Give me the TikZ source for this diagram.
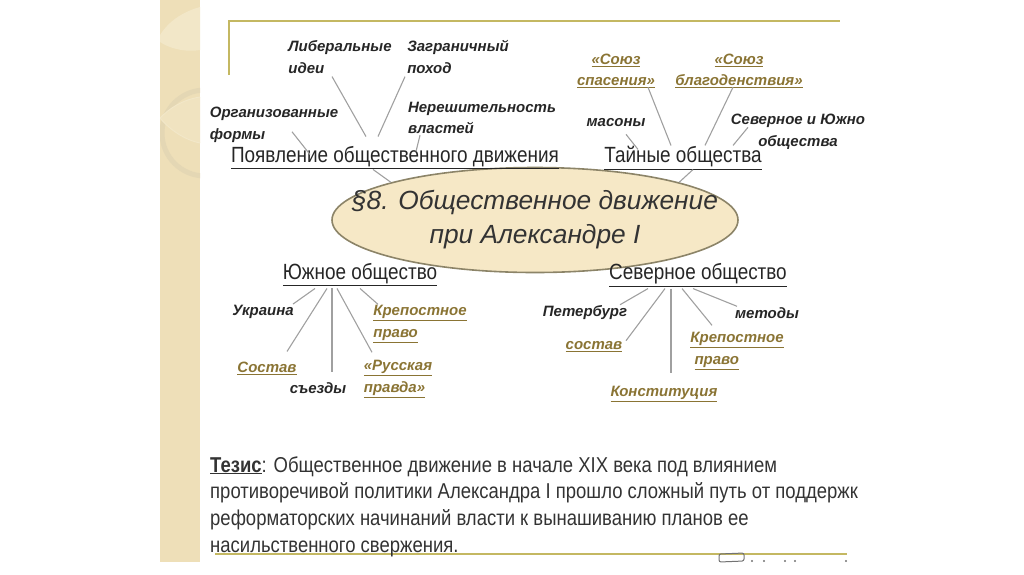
\documentclass[tikz,border=0pt]{standalone}
\usepackage{fontspec}
\setmainfont{Liberation Sans}
\newfontfamily\headfont[FakeStretch=0.86]{Liberation Sans}
\usetikzlibrary{positioning, shapes.geometric}
\definecolor{bandtan}{HTML}{EEDFB8}
\definecolor{bandlight}{HTML}{F2E7C8}
\definecolor{banddark}{HTML}{E4D7B4}
\definecolor{rulegold}{HTML}{C4B862}
\definecolor{goldtext}{HTML}{8A7434}
\definecolor{ovalfill}{HTML}{F6E8C6}
\definecolor{ovalline}{HTML}{8C8468}
\definecolor{linkgray}{HTML}{A0A0A0}
\newcommand{\gu}[1]{\textcolor{goldtext}{\underline{#1}}}
\tikzset{
  note/.style = {inner sep=0pt, xshift=1pt, yshift=-1pt, align=left, font=\fontsize{15}{21.5}\selectfont\bfseries\itshape, text=black!85},
  link/.style = {draw=linkgray, line width=1.1pt},
  headline/.style = {inner sep=0pt, yshift=-1pt, font=\headfont\fontsize{22}{24}\selectfont, text=black!85},
  thesis/.style = {inner sep=0pt, anchor=base west, font=\headfont\fontsize{21.5}{24}\selectfont, text=black!80},
}
\begin{document}
\begin{tikzpicture}[x=1pt, y=-1pt]
    \useasboundingbox (0,0) rectangle (1024,574);
    % left band
    \fill[bandtan] (160,0) rectangle (200,562);
    \begin{scope}
      \clip (160,0) rectangle (200,562);
      \fill[bandlight] (200,7) .. controls (182,12) and (168,22) .. (160,35) -- (160,42) .. controls (172,50) and (188,52) .. (200,50) -- cycle;
      \draw[banddark, line width=5pt] (205,133) circle (43);
      \draw[bandlight, fill=bandlight!50!bandtan, line width=1pt] (200,97) .. controls (182,100) and (170,108) .. (160,118) .. controls (170,130) and (185,140) .. (200,143);
    \end{scope}
    % frame lines
    \draw[rulegold, line width=1.6pt] (229,75) -- (229,21) -- (840,21);
    \draw[rulegold, line width=1.4pt] (215,554) -- (847,554);
    % logo rest
    \draw[black!55, line width=1pt, rounded corners=2pt] (719,562) -- (719,554) -- (744,553) -- (744,561) -- cycle;
    \foreach \dotx in {752,764,785,795,846} \fill[black!55] (\dotx,561) circle (1.2);

    % centre
    \node[ellipse, draw=ovalline, line width=1.6pt, fill=ovalfill, minimum width=406, minimum height=105, inner sep=0pt] (topic) at (535,220) {};
    \node[inner sep=0pt, align=center, font=\fontsize{26.3}{34}\selectfont\itshape, text=black!80] (title) at (topic) {§8. Общественное движение\\при Александре I};

    % headings
    \node[headline] (rise) at (395,157) {\underline{Появление общественного движения}};
    \node[headline] (secret) at (683,157) {\underline{Тайные общества}};
    \node[headline] (south) at (360,274) {\underline{Южное общество}};
    \node[headline] (north) at (698,274) {\underline{Северное общество}};

    % notes above
    \node[note] (liberal) at (339,56) {Либеральные\\идеи};
    \node[note] (abroad) at (457,56) {Заграничный\\поход};
    \node[note] (doubt) at (481,117) {Нерешительность\\властей};
    \node[note] (forms) at (273,124) {Организованные\\формы};
    \node[note, align=center] (salv) at (615,70) {\gu{«Союз}\\\gu{спасения»}};
    \node[note, align=center] (welf) at (738,70) {\gu{«Союз}\\\gu{благоденствия»}};
    \node[note] (mason) at (615,122) {масоны};
    \node[note, align=center] (both) at (797,131) {Северное и Южно\\общества};

    % notes south
    \node[note] (ukr) at (262,311) {Украина};
    \node[note] (serfs) at (419,323) {\gu{Крепостное}\\\gu{право}};
    \node[note] (staffs) at (266,367) {\gu{Состав}};
    \node[note] (cong) at (317,387) {съезды};
    \node[note] (truth) at (397,378) {\gu{«Русская}\\\gu{правда»}};

    % notes north
    \node[note] (peter) at (584,312) {Петербург};
    \node[note] (meth) at (766,312) {методы};
    \node[note] (staffn) at (593,346) {\gu{состав}};
    \node[note] (serfn) at (736,350) {\gu{Крепостное}\\\ \gu{право}};
    \node[note] (const) at (663,393) {\gu{Конституция}};

    % thesis
    \node[thesis] (th1) at (210,472) {\textbf{\underline{Тезис}}: Общественное движение в начале XIX века под влиянием};
    \node[thesis] (th2) at (210,498) {противоречивой политики Александра I прошло сложный путь от поддержк};
    \node[thesis] (th3) at (210,525) {реформаторских начинаний власти к вынашиванию планов ее};
    \node[thesis] (th4) at (210,552) {насильственного свержения.};

    % connectors
    \draw[link] ([xshift=-8pt,yshift=-3pt]liberal.south) -- ([xshift=-29pt,yshift=10pt]rise.north);
    \draw[link] ([xshift=-53pt,yshift=-3pt]abroad.south) -- ([xshift=-17pt,yshift=10pt]rise.north);
    \draw[link] ([xshift=18pt,yshift=11pt]forms.south) -- ([xshift=-85pt,yshift=-8pt]rise.north);
    \draw[link] ([xshift=-62pt,yshift=-1pt]doubt.south) -- ([xshift=21pt,yshift=-5pt]rise.north);
    \draw[link] ([xshift=-22pt]rise.south) -- (topic.north west);
    \draw[link] ([xshift=32pt,yshift=1pt]salv.south) -- ([xshift=-12pt,yshift=1pt]secret.north);
    \draw[link] ([xshift=-6pt,yshift=1pt]welf.south) -- ([xshift=22pt,yshift=1pt]secret.north);
    \draw[link] ([xshift=10pt,yshift=-7pt]mason.south) -- ([xshift=-45pt,yshift=-3pt]secret.north);
    \draw[link] ([xshift=-50pt,yshift=-13pt]both.north) -- ([xshift=50pt,yshift=1pt]secret.north);
    \draw[link] ([xshift=10pt]secret.south) -- (topic.north east);

    \draw[link] ([xshift=-45pt,yshift=-2pt]south.south) -- ([xshift=30pt,yshift=1pt]ukr.north);
    \draw[link] ([xshift=-33pt,yshift=-2pt]south.south) -- ([xshift=20pt,yshift=10pt]staffs.north);
    \draw[link] ([xshift=-28pt,yshift=-2pt]south.south) -- ([xshift=14pt,yshift=10pt]cong.north);
    \draw[link] ([xshift=-23pt,yshift=-2pt]south.south) -- ([xshift=-26pt,yshift=8pt]truth.north);
    \draw[link] ([xshift=0pt,yshift=-2pt]south.south) -- ([xshift=-42pt,yshift=1pt]serfs.north);

    \draw[link] ([xshift=-50pt,yshift=-2pt]north.south) -- ([xshift=35pt,yshift=1pt]peter.north);
    \draw[link] ([xshift=-33pt,yshift=-2pt]north.south) -- ([xshift=32pt,yshift=1pt]staffn.north);
    \draw[link] ([xshift=-27pt,yshift=-2pt]north.south) -- ([xshift=7pt,yshift=13pt]const.north);
    \draw[link] ([xshift=-16pt,yshift=-2pt]north.south) -- ([xshift=-25pt,yshift=7pt]serfn.north);
    \draw[link] ([xshift=-5pt,yshift=-2pt]north.south) -- ([xshift=-30pt,yshift=1pt]meth.north);
\end{tikzpicture}
\end{document}
